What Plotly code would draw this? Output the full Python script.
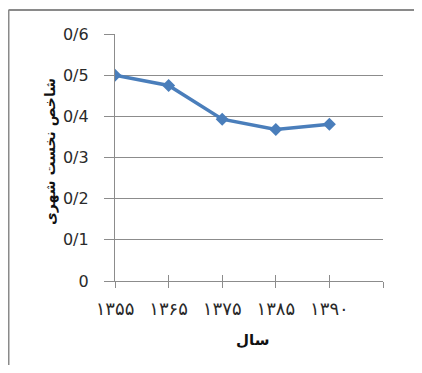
import plotly.graph_objects as go

years = ["۱۳۵۵", "۱۳۶۵", "۱۳۷۵", "۱۳۸۵", "۱۳۹۰"]
index_values = [0.50, 0.475, 0.393, 0.368, 0.381]
y_ticks = [0, 0.1, 0.2, 0.3, 0.4, 0.5, 0.6]
y_tick_labels = ["0", "0/1", "0/2", "0/3", "0/4", "0/5", "0/6"]
x_title = "سال"
y_title = "شاخص نخست شهری"

positions = list(range(len(years)))
x_tickvals = positions + [len(years)]
x_ticktext = years + [""]

AR_FONT = "DejaVu Sans"
GRID = "#8c8c8c"
TXT = "#2a2a2a"

# the page body has an 8px default margin, so the figure is sized to fit the 422x373 window
W, H = 406, 357
ML, MT = 107, 25.5
PW, PH = 268, 248

fig = go.Figure()
fig.add_trace(go.Scatter(
    x=positions, y=index_values, mode="lines+markers",
    line=dict(color="#4a7ebb", width=3.5),
    marker=dict(symbol="diamond", size=10, color="#4a7ebb"),
    showlegend=False, xaxis="x", yaxis="y",
))
fig.add_trace(go.Scatter(x=positions, y=index_values, mode="none",
                         showlegend=False, xaxis="x2", yaxis="y", hoverinfo="skip"))

frame_left = (8.5 - 115) / PW
frame_top = (281.5 - 9.5) / PH
frame_line = dict(color="#8a8a8a", width=2)

fig.update_layout(
    width=W, height=H,
    margin=dict(l=ML, r=W - ML - PW, t=MT, b=H - MT - PH, autoexpand=False),
    paper_bgcolor="white", plot_bgcolor="white",
    font=dict(family=AR_FONT, color=TXT),
    xaxis=dict(
        automargin=False,
        range=[0, len(years)], tickmode="array", tickvals=x_tickvals, ticktext=x_ticktext,
        showgrid=False, zeroline=False, showline=True, linecolor=GRID, linewidth=1.3,
        ticks="outside", ticklen=6, tickcolor=GRID, tickwidth=1.3,
        ticklabelstandoff=5,
        tickfont=dict(family=AR_FONT, size=18, color=TXT),
    ),
    xaxis2=dict(
        overlaying="x", matches="x", range=[0, len(years)], tickmode="array", tickvals=x_tickvals,
        showticklabels=False, showgrid=False, zeroline=False, showline=False,
        ticks="inside", ticklen=6, tickcolor=GRID, tickwidth=1.3, side="bottom",
    ),
    yaxis=dict(
        automargin=False,
        range=[0, 0.6], tickmode="array", tickvals=y_ticks, ticktext=y_tick_labels,
        showgrid=True, gridcolor=GRID, gridwidth=1.3, zeroline=False,
        showline=True, linecolor=GRID, linewidth=1.3,
        ticks="outside", ticklen=10, tickcolor=GRID, tickwidth=1.3,
        ticklabelstandoff=12,
        tickfont=dict(family=AR_FONT, size=16, color=TXT),
    ),
    annotations=[
        dict(text="<b>" + y_title + "</b>", xref="paper", yref="paper",
             x=(50 - 115) / PW, y=(281.5 - 152) / PH, textangle=-90, showarrow=False,
             xanchor="center", yanchor="middle", font=dict(family=AR_FONT, size=14, color="#111")),
        dict(text="<b>" + x_title + "</b>", xref="paper", yref="paper",
             x=(252 - 115) / PW, y=(281.5 - 341) / PH, showarrow=False,
             xanchor="center", yanchor="middle", font=dict(family=AR_FONT, size=15, color="#111")),
    ],
    shapes=[
        dict(type="line", xref="paper", yref="paper",
             x0=frame_left, x1=1.2, y0=frame_top, y1=frame_top, line=frame_line, layer="below"),
        dict(type="line", xref="paper", yref="paper",
             x0=frame_left, x1=frame_left, y0=-0.5, y1=frame_top, line=frame_line, layer="below"),
    ],
)

fig.write_html("out.html")
